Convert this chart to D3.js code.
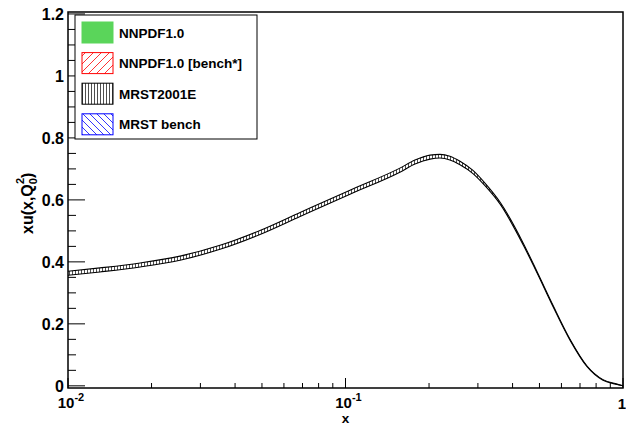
<!DOCTYPE html>
<html>
<head>
<meta charset="utf-8">
<script src="https://cdn.jsdelivr.net/npm/d3@7"></script>
<style>
  body { margin: 0; background: #fff; }
  text { font-family: "Liberation Sans", Arial, sans-serif; font-weight: bold; }
</style>
</head>
<body>
<div id="chart"></div>
<script>
// x values
var xVals = [0.01, 0.01304, 0.0182, 0.02533, 0.0353, 0.04919, 0.0686, 0.1038, 0.157, 0.178, 0.2016, 0.219, 0.2379, 0.2586, 0.288, 0.3181, 0.3603, 0.4361, 0.4898, 0.5594, 0.6442, 0.7419, 0.8471, 0.9515, 1.0];
// MRST2001E central value of xu(x,Q0^2)
var mrstCentral = [0.363, 0.374, 0.390, 0.412, 0.447, 0.495, 0.553, 0.625, 0.696, 0.722, 0.738, 0.741, 0.735, 0.719, 0.690, 0.650, 0.590, 0.459, 0.367, 0.258, 0.149, 0.063, 0.019, 0.005, 0.0];
// half width of the band
var mrstErr = [0.0065, 0.0065, 0.0065, 0.0065, 0.0065, 0.0065, 0.0065, 0.0065, 0.0065, 0.0065, 0.0065, 0.006, 0.006, 0.0055, 0.005, 0.004, 0.003, 0.003, 0.002, 0.002, 0.0015, 0.001, 0.001, 0.0005, 0.0];

var legendLabels = ["NNPDF1.0", "NNPDF1.0 [bench*]", "MRST2001E", "MRST bench"];
var yTicks = [0, 0.2, 0.4, 0.6, 0.8, 1, 1.2];
var xTicks = [0.01, 0.1, 1];

(function () {

  var margin = { top: 12, left: 68, right: 3, bottom: 37 },
      height = 425 - margin.top - margin.bottom,
      width = 626 - margin.left - margin.right;

  var root = d3.select("#chart")
      .append("svg")
      .attr("height", height + margin.top + margin.bottom)
      .attr("width", width + margin.left + margin.right)

  var defs = root.append("defs")

  // hatch patterns, ROOT style
  function hatch(id, size, color, path, bg) {
    var p = defs.append("pattern")
      .attr("id", id)
      .attr("patternUnits", "userSpaceOnUse")
      .attr("width", size)
      .attr("height", size)
    p.append("rect").attr("width", size).attr("height", size).attr("fill", bg)
    p.append("path").attr("d", path).attr("stroke", color).attr("stroke-width", 0.8).attr("fill", "none")
  }
  hatch("vh", 3, "#222", "M1.5,0V3", "#fff")
  hatch("rh", 8, "#ff0000", "M0,8L8,0M-2,2L2,-2M6,10L10,6", "#fff")
  hatch("bh", 7, "#0000ff", "M0,0L7,7M-2,5L2,9M5,-2L9,2", "#fff")

  var svg = root.append("g")
      .attr("transform", "translate(" + margin.left + "," + margin.top + ")");

  var xPositionScale = d3.scaleLog()
    .domain([0.01, 1])
    .range([0, width])

  var yPositionScale = d3.scaleLinear()
    .domain([-0.007, 1.2063])
    .range([height, 0])

  var pts = xVals.map(function (x, i) {
    return { x: x, c: mrstCentral[i], e: mrstErr[i] }
  })

  var area = d3.area()
    .x(function (d) { return xPositionScale(d.x) })
    .y0(function (d) { return yPositionScale(d.c - d.e) })
    .y1(function (d) { return yPositionScale(d.c + d.e) })
    .curve(d3.curveMonotoneX)

  var upper = d3.line()
    .x(function (d) { return xPositionScale(d.x) })
    .y(function (d) { return yPositionScale(d.c + d.e) })
    .curve(d3.curveMonotoneX)

  var lower = d3.line()
    .x(function (d) { return xPositionScale(d.x) })
    .y(function (d) { return yPositionScale(d.c - d.e) })
    .curve(d3.curveMonotoneX)

  svg.append("path").datum(pts).attr("d", area).attr("fill", "url(#vh)")
  svg.append("path").datum(pts).attr("d", upper).attr("fill", "none").attr("stroke", "#000").attr("stroke-width", 1.1)
  svg.append("path").datum(pts).attr("d", lower).attr("fill", "none").attr("stroke", "#000").attr("stroke-width", 1.1)

  // y axis ticks (inside the frame)
  var yMinor = d3.range(0, 1.2001, 0.05)
  svg.selectAll(".ytick")
    .data(yMinor)
    .enter().append("line")
    .attr("x1", 0)
    .attr("x2", function (d) {
      return Math.abs(d / 0.2 - Math.round(d / 0.2)) < 1e-6 ? 17 : 8
    })
    .attr("y1", function (d) { return yPositionScale(d) })
    .attr("y2", function (d) { return yPositionScale(d) })
    .attr("stroke", "#000")
    .attr("stroke-width", 1)

  svg.selectAll(".ylab")
    .data(yTicks)
    .enter().append("text")
    .attr("x", -4)
    .attr("y", function (d) { return yPositionScale(d) + 6 })
    .attr("text-anchor", "end")
    .attr("font-size", 16)
    .text(function (d) { return d3.format("")(d) })

  // x axis ticks
  var xMinor = []
  ;[0.01, 0.1].forEach(function (dec) {
    for (var k = 2; k <= 9; k++) xMinor.push(dec * k)
  })
  svg.selectAll(".xminor")
    .data(xMinor)
    .enter().append("line")
    .attr("x1", function (d) { return xPositionScale(d) })
    .attr("x2", function (d) { return xPositionScale(d) })
    .attr("y1", height)
    .attr("y2", height - 5)
    .attr("stroke", "#000")

  svg.selectAll(".xmajor")
    .data(xTicks)
    .enter().append("line")
    .attr("x1", function (d) { return xPositionScale(d) })
    .attr("x2", function (d) { return xPositionScale(d) })
    .attr("y1", height)
    .attr("y2", height - 10)
    .attr("stroke", "#000")

  xTicks.forEach(function (d) {
    var e = Math.round(Math.log10(d))
    var t = svg.append("text")
      .attr("y", height + 20)
      .attr("font-size", 15)
      .attr("text-anchor", "middle")
    if (e === 0) {
      t.attr("x", xPositionScale(d) - 1).attr("y", height + 21).text("1")
    } else {
      t.attr("x", xPositionScale(d) + 3)
      t.append("tspan").text("10")
      t.append("tspan").attr("font-size", 11).attr("dy", -7).text(e)
    }
  })

  // frame
  svg.append("rect")
    .attr("width", width)
    .attr("height", height)
    .attr("fill", "none")
    .attr("stroke", "#000")
    .attr("stroke-width", 1.5)

  // axis titles
  svg.append("text")
    .attr("x", xPositionScale(0.1))
    .attr("y", height + 34.5)
    .attr("text-anchor", "middle")
    .attr("font-size", 13.5)
    .text("x")

  var yt = svg.append("text")
    .attr("transform", "translate(" + (33 - margin.left) + "," + 222 + ") rotate(-90)")
    .attr("font-size", 16)
  yt.append("tspan").text("xu(x,Q")
  yt.append("tspan").attr("font-size", 11).attr("dy", 4).text("0")
  yt.append("tspan").attr("font-size", 11).attr("dx", -6).attr("dy", -13).text("2")
  yt.append("tspan").attr("dy", 9).text(")")

  // legend
  var lg = svg.append("g").attr("transform", "translate(" + (75 - margin.left) + "," + (15 - margin.top) + ")")
  lg.append("rect")
    .attr("width", 182)
    .attr("height", 124)
    .attr("fill", "#fff")
    .attr("stroke", "#000")
    .attr("stroke-width", 1)

  var swatchFill = ["#5ad55a", "url(#rh)", "url(#vh)", "url(#bh)"]
  var swatchStroke = ["#5ad55a", "#ff0000", "#000", "#0000ff"]

  lg.selectAll(".sw")
    .data(legendLabels)
    .enter().append("rect")
    .attr("x", 7)
    .attr("y", function (d, i) { return 7 + i * 30.6 })
    .attr("width", 31)
    .attr("height", 21)
    .attr("fill", function (d, i) { return swatchFill[i] })
    .attr("stroke", function (d, i) { return swatchStroke[i] })
    .attr("stroke-width", 1)

  lg.selectAll(".lt")
    .data(legendLabels)
    .enter().append("text")
    .attr("x", 44)
    .attr("y", function (d, i) { return 22.5 + i * 30.6 })
    .attr("font-size", 13.5)
    .text(function (d) { return d })

})()
</script>
</body>
</html>
